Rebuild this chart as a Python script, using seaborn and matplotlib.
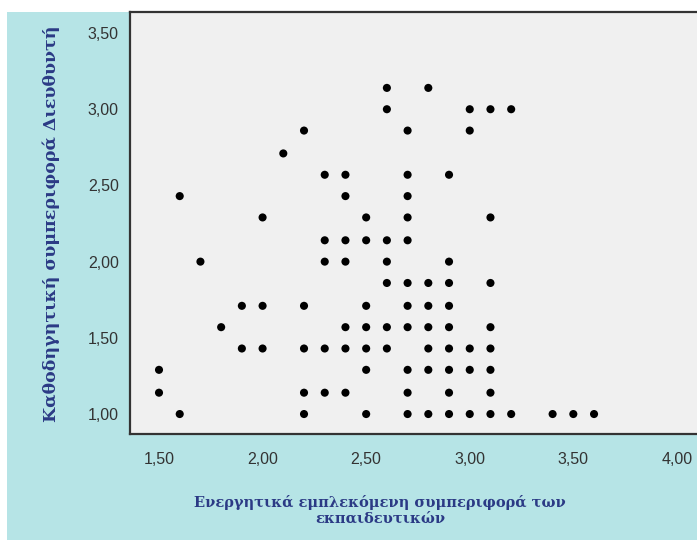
import matplotlib
matplotlib.use("Agg")
import matplotlib.pyplot as plt
import seaborn as sns
import pandas as pd
from matplotlib.patches import Rectangle
from matplotlib.ticker import FuncFormatter

# points, grouped by row (y level)
x_vals = [
    2.6, 2.8,
    2.6, 3.0, 3.1, 3.2,
    2.2, 2.7, 3.0,
    2.1,
    2.3, 2.4, 2.7, 2.9,
    1.6, 2.4, 2.7,
    2.0, 2.5, 2.7, 3.1,
    2.3, 2.4, 2.5, 2.6, 2.7,
    1.7, 2.3, 2.4, 2.6, 2.9,
    2.6, 2.7, 2.8, 2.9, 3.1,
    1.9, 2.0, 2.2, 2.5, 2.7, 2.8, 2.9,
    1.8, 2.4, 2.5, 2.6, 2.7, 2.8, 2.9, 3.1,
    1.9, 2.0, 2.2, 2.3, 2.4, 2.5, 2.6, 2.8, 2.9, 3.0, 3.1,
    1.5, 2.5, 2.7, 2.8, 2.9, 3.0, 3.1,
    1.5, 2.2, 2.3, 2.4, 2.7, 2.9, 3.1,
    1.6, 2.2, 2.5, 2.7, 2.8, 2.9, 3.0, 3.1, 3.2, 3.4, 3.5, 3.6,
]
y_vals = [
    3.14, 3.14,
    3.00, 3.00, 3.00, 3.00,
    2.86, 2.86, 2.86,
    2.71,
    2.57, 2.57, 2.57, 2.57,
    2.43, 2.43, 2.43,
    2.29, 2.29, 2.29, 2.29,
    2.14, 2.14, 2.14, 2.14, 2.14,
    2.00, 2.00, 2.00, 2.00, 2.00,
    1.86, 1.86, 1.86, 1.86, 1.86,
    1.71, 1.71, 1.71, 1.71, 1.71, 1.71, 1.71,
    1.57, 1.57, 1.57, 1.57, 1.57, 1.57, 1.57, 1.57,
    1.43, 1.43, 1.43, 1.43, 1.43, 1.43, 1.43, 1.43, 1.43, 1.43, 1.43,
    1.29, 1.29, 1.29, 1.29, 1.29, 1.29, 1.29,
    1.14, 1.14, 1.14, 1.14, 1.14, 1.14, 1.14,
    1.00, 1.00, 1.00, 1.00, 1.00, 1.00, 1.00, 1.00, 1.00, 1.00, 1.00, 1.00,
]
x_ticks = [1.5, 2.0, 2.5, 3.0, 3.5, 4.0]
y_ticks = [1.0, 1.5, 2.0, 2.5, 3.0, 3.5]

x_title = "Ενεργητικά εμπλεκόμενη συμπεριφορά των\nεκπαιδευτικών"
y_title = "Καθοδηγητική συμπεριφορά Διευθυντή"

df = pd.DataFrame({"x": x_vals, "y": y_vals})

sns.set_style("white")
plt.rcParams["font.family"] = ["Liberation Sans", "DejaVu Sans"]

fig = plt.figure(figsize=(6.97, 5.40), dpi=100)
fig.patch.set_facecolor("white")
fig.add_artist(Rectangle((7 / 697, 0), 1, 1 - 12 / 540, transform=fig.transFigure,
                         facecolor="#b6e4e6", edgecolor="none", zorder=0))

ax = fig.add_axes([130 / 697, 106 / 540, 567 / 697, 422 / 540])
ax.set_facecolor("#f0f0f0")

sns.scatterplot(data=df, x="x", y="y", color="black", s=34, edgecolor="none", ax=ax)

ax.set_xlim(1.36, 4.097)
ax.set_ylim(0.869, 3.638)
ax.set_xticks(x_ticks)
ax.set_yticks(y_ticks)
comma = FuncFormatter(lambda v, p: f"{v:.2f}".replace(".", ","))
ax.xaxis.set_major_formatter(comma)
ax.yaxis.set_major_formatter(comma)
ax.tick_params(axis="both", direction="out", length=7, width=1.5, color="#333333",
               labelsize=11.5, labelcolor="#333333", pad=1)
ax.tick_params(axis="x", pad=6)
ax.set_xlabel("")
ax.set_ylabel("")

for side in ["left", "bottom", "top"]:
    ax.spines[side].set_color("#333333")
    ax.spines[side].set_linewidth(1.6)
ax.spines["right"].set_visible(False)

fig.text(380 / 697, 1 - 510 / 540, x_title, ha="center", va="center", ma="center",
         family="DejaVu Serif", fontsize=10.5, fontweight="bold", color="#2b3a85",
         linespacing=1.15)
fig.text(51 / 697, 1 - 224 / 540, y_title, ha="center", va="center", rotation=90,
         family="DejaVu Serif", fontsize=12.5, fontweight="bold", color="#2b3a85")

fig.savefig("out.png", dpi=100, facecolor=fig.get_facecolor())
